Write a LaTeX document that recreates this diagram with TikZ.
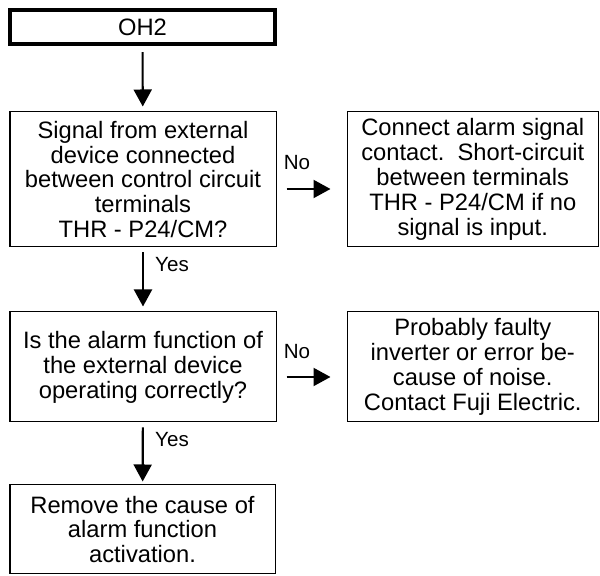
\documentclass[tikz,border=0pt]{standalone}
\usepackage{fontspec}
\setmainfont{Liberation Sans}
\usepackage{tikz}
\usetikzlibrary{arrows.meta,positioning}

\begin{document}
\begin{tikzpicture}[
    box/.style={draw, line width=0.57pt, align=center, inner sep=0pt, font=\fontsize{13.5pt}{14.2pt}\selectfont},
    flow/.style={-{Triangle[width=0.36cm, length=0.34cm]}, line width=1.2pt},
    lbl/.style={inner sep=0pt, font=\fontsize{11.7pt}{14pt}\selectfont}]
        \useasboundingbox (0,0) rectangle (12,11.52);

        % Start
        \node[box, line width=2.3pt, minimum width=5.3cm, minimum height=0.68cm] (oh2) at (2.85,10.98) {OH2};

        % First check
        \node[box, minimum width=5.32cm, minimum height=2.7cm] (q1) at (2.86,7.93) {Signal from external\\device connected\\between control circuit\\terminals\\THR - P24/CM?};
        \node[box, minimum width=5.03cm, minimum height=2.7cm] (a1) at (9.455,7.93) {Connect alarm signal\\contact.\ \ Short-circuit\\between terminals\\THR - P24/CM if no\\signal is input.};

        % Second check
        \node[box, minimum width=5.32cm, minimum height=2.2cm] (q2) at (2.86,4.18) {Is the alarm function of\\the external device\\operating correctly?};
        \node[box, minimum width=5.03cm, minimum height=2.2cm] (a2) at (9.455,4.18) {Probably faulty\\inverter or error be-\\cause of noise.\\Contact Fuji Electric.};

        % Result
        \node[box, minimum width=5.3cm, minimum height=1.78cm] (a3) at (2.85,0.93) {Remove the cause of\\alarm function\\activation.};

        % Labels
        \node[lbl] (no1) at (5.94,8.26) {No};
        \node[lbl] (yes1) at (3.44,6.22) {Yes};
        \node[lbl] (no2) at (5.94,4.48) {No};
        \node[lbl] (yes2) at (3.44,2.72) {Yes};

        \draw[flow, shorten <=0.12cm, shorten >=0.1cm] (oh2) -- (q1);
        \draw[flow, shorten <=0.1cm, shorten >=0.1cm] (q1) -- (q2);
        \draw[flow, shorten <=0.1cm, shorten >=0.06cm] (q2) -- (a3);
        \draw[flow, shorten <=0.2cm, shorten >=0.32cm] ([yshift=-0.19cm]q1.east) -- ([yshift=-0.19cm]a1.west);
        \draw[flow, shorten <=0.2cm, shorten >=0.32cm] ([yshift=-0.2cm]q2.east) -- ([yshift=-0.2cm]a2.west);
    \end{tikzpicture}
\end{document}
